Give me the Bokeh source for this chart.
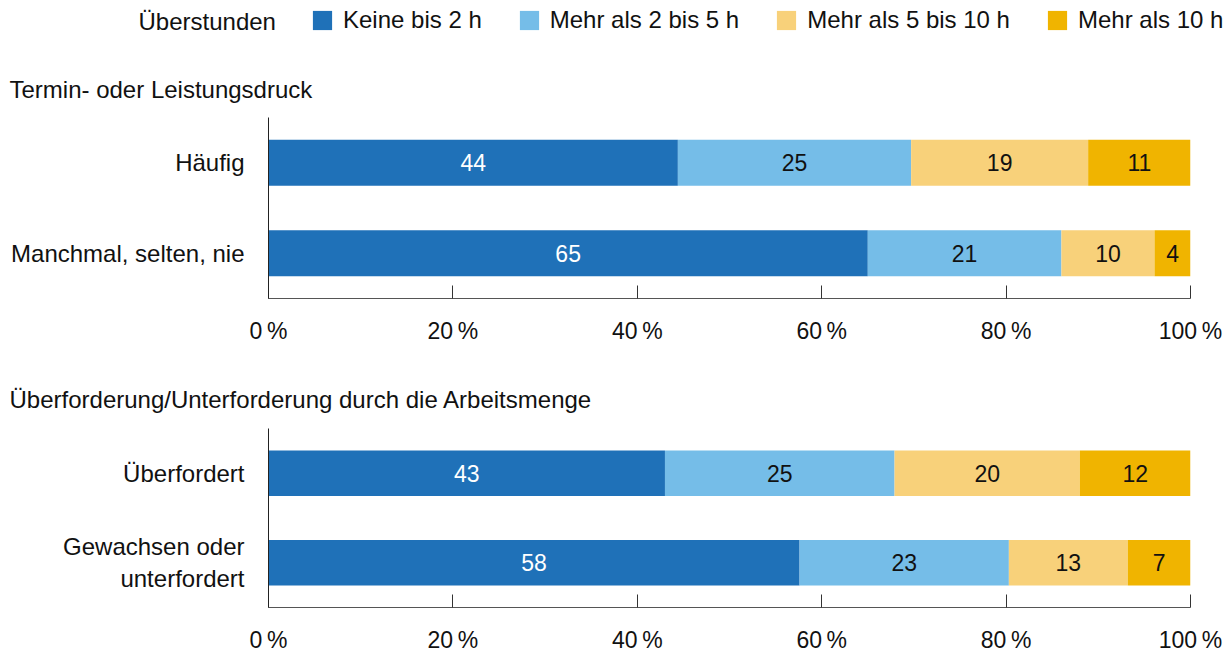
from bokeh.plotting import figure
from bokeh.models import (ColumnDataSource, FactorRange, Range1d, FixedTicker,
                          Label, Legend, LegendItem)
from bokeh.layouts import column
from bokeh.core.properties import value
from bokeh.embed import file_html
from bokeh.resources import INLINE

# ---------------- data ----------------
series = ["Keine bis 2 h", "Mehr als 2 bis 5 h", "Mehr als 5 bis 10 h", "Mehr als 10 h"]
colors = ["#1f71b8", "#75bde8", "#f8d17a", "#f0b400"]
text_colors = ["#ffffff", "#111111", "#111111", "#111111"]
legend_title = "Überstunden"

title1 = "Termin- oder Leistungsdruck"
cats1 = ["Häufig", "Manchmal, selten, nie"]
keine1 = [44.4, 65.0]
mehr2_1 = [25.3, 21.0]
mehr5_1 = [19.2, 10.1]
mehr10_1 = [11.1, 3.9]

title2 = "Überforderung/Unterforderung durch die Arbeitsmenge"
cats2 = ["Überfordert", "Gewachsen oder\nunterfordert"]
keine2 = [43.0, 57.6]
mehr2_2 = [24.9, 22.7]
mehr5_2 = [20.1, 12.9]
mehr10_2 = [12.0, 6.8]

x_ticks = [0, 20, 40, 60, 80, 100]
x_tick_labels = ["0\u2009%", "20\u2009%", "40\u2009%", "60\u2009%", "80\u2009%", "100\u2009%"]

FONT = "Liberation Sans"
W = 1228
FRAME_L = 268


def panel(title, cats, vals, height, top, bottom, title_standoff):
    p = figure(width=W, height=height,
               y_range=FactorRange(factors=list(reversed(cats))),
               x_range=Range1d(0, 100),
               output_backend="svg", toolbar_location=None,
               min_border_left=FRAME_L, min_border_right=38,
               min_border_top=top, min_border_bottom=bottom,
               title=title)
    p.outline_line_color = None
    p.grid.visible = False
    p.background_fill_color = "white"
    p.border_fill_color = "white"

    p.title.align = "left"
    p.title.offset = 9 - FRAME_L
    p.title.standoff = title_standoff
    p.title.text_font = FONT
    p.title.text_font_size = "24px"
    p.title.text_font_style = "normal"
    p.title.text_color = "#111111"

    left = [0.0] * len(cats)
    for i, s in enumerate(vals):
        right = [l + v for l, v in zip(left, s)]
        src = ColumnDataSource(dict(
            y=cats, left=left, right=right,
            mid=[(l + r) / 2 for l, r in zip(left, right)],
            lab=[str(int(round(v))) for v in s]))
        p.hbar(y="y", left="left", right="right", height=0.51, source=src,
               fill_color=colors[i], line_color=None)
        p.text(x="mid", y="y", text="lab", source=src, text_align="center",
               text_baseline="middle", text_color=text_colors[i],
               text_font=value(FONT), text_font_size="23px")
        left = right

    xa = p.xaxis[0]
    xa.ticker = FixedTicker(ticks=x_ticks)
    xa.major_label_overrides = {t: l for t, l in zip(x_ticks, x_tick_labels)}
    xa.major_tick_in = 13
    xa.major_tick_out = 0
    xa.minor_tick_in = 0
    xa.minor_tick_out = 0
    xa.axis_line_color = "#555555"
    xa.major_tick_line_color = "#333333"
    xa.major_label_standoff = 19
    xa.major_label_text_font = FONT
    xa.major_label_text_font_size = "23px"
    xa.major_label_text_color = "#111111"

    ya = p.yaxis[0]
    ya.major_tick_in = 0
    ya.major_tick_out = 0
    ya.minor_tick_in = 0
    ya.minor_tick_out = 0
    ya.axis_line_color = "#222222"
    ya.major_label_standoff = 24
    ya.major_label_text_font = FONT
    ya.major_label_text_font_size = "24px"
    ya.major_label_text_color = "#111111"
    ya.major_label_text_line_height = 1.2
    return p


# legend figure (its frame spans the whole canvas)
lg = figure(width=W, height=50, x_range=Range1d(0, 1), y_range=Range1d(0, 1),
            output_backend="svg", toolbar_location=None,
            min_border_left=0, min_border_right=0, min_border_top=0, min_border_bottom=0)
try:
    lg.frame_align = False
except Exception:
    pass
lg.axis.visible = False
lg.grid.visible = False
lg.outline_line_color = None
items = []
for i, s in enumerate(series):
    r = lg.hbar(y=[-5], left=[0], right=[0], height=0.5,
                fill_color=colors[i], line_color=None)
    items.append(LegendItem(label=s, renderers=[r]))
legend = Legend(items=items, orientation="horizontal", location=(310, 16),
                label_text_font=FONT, label_text_font_size="24px",
                label_text_color="#111111",
                glyph_width=24, glyph_height=24, label_standoff=9, spacing=35,
                padding=0, margin=0, border_line_color=None, background_fill_alpha=0,
                label_height=19)
lg.add_layout(legend)
lg.add_layout(Label(x=138, y=29.5, x_units="screen", y_units="screen",
                    text=legend_title, text_font=FONT, text_font_size="24px",
                    text_baseline="middle", text_color="#111111"))

p1 = panel(title1, cats1, [keine1, mehr2_1, mehr5_1, mehr10_1], 310, 67, 62, 29)
p2 = panel(title2, cats2, [keine2, mehr2_2, mehr5_2, mehr10_2], 295, 68, 46, 31)

layout = column(lg, p1, p2, spacing=0)
open("out.html", "w").write(file_html(layout, INLINE))
